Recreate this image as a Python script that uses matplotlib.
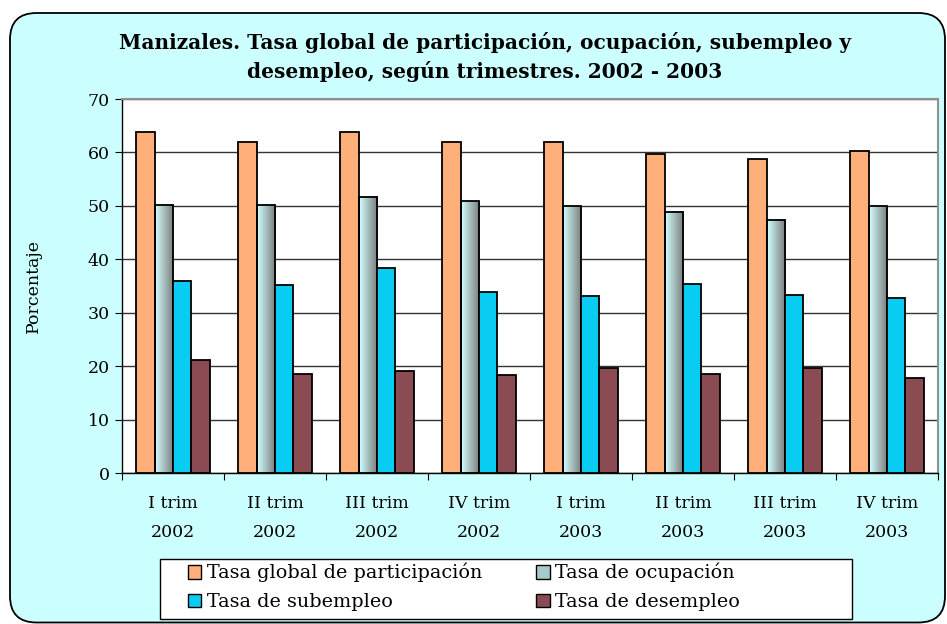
import matplotlib
matplotlib.use("Agg")
import matplotlib.pyplot as plt
import numpy as np
from matplotlib.patches import FancyBboxPatch, Patch, Rectangle

categories = ["I trim\n2002", "II trim\n2002", "III trim\n2002", "IV trim\n2002",
              "I trim\n2003", "II trim\n2003", "III trim\n2003", "IV trim\n2003"]
participacion = [63.8, 61.9, 63.8, 61.9, 61.9, 59.7, 58.8, 60.3]
ocupacion = [50.2, 50.2, 51.7, 50.9, 49.9, 48.9, 47.4, 49.9]
subempleo = [35.9, 35.1, 38.4, 33.8, 33.2, 35.3, 33.4, 32.8]
desempleo = [21.1, 18.6, 19.0, 18.3, 19.6, 18.6, 19.6, 17.7]
series_names = ["Tasa global de participación", "Tasa de ocupación",
                "Tasa de subempleo", "Tasa de desempleo"]

SERIF = "DejaVu Serif"
BG = "#CCFFFF"
colors = ["#FFAF7A", None, "#08CCF2", "#8A4B52"]
W, H = 947, 624

fig = plt.figure(figsize=(W / 100, H / 100), dpi=100)
fig.patch.set_facecolor("white")
frame = FancyBboxPatch((10 / W, 1.5 / H), 935 / W, 609.5 / H,
                       boxstyle="round,pad=0,rounding_size=0.028",
                       transform=fig.transFigure, facecolor=BG,
                       edgecolor="black", linewidth=1.3, zorder=-5,
                       mutation_aspect=W / H)
fig.patches.append(frame)

ax = fig.add_axes([122 / W, 1 - 473 / H, 816 / W, 374 / H])
ax.set_zorder(1)
ax.set_facecolor("white")

x = np.arange(len(categories))
w = 0.18
offsets = np.array([-1.5, -0.5, 0.5, 1.5]) * w
data = [participacion, ocupacion, subempleo, desempleo]

# horizontal light-cyan -> grey fill for the "ocupación" bars
grad = np.linspace(0, 1, 64).reshape(1, -1)
cmap = matplotlib.colors.LinearSegmentedColormap.from_list("g", ["#D2FFFF", "#7A7A7A"])

for i, vals in enumerate(data):
    xs = x + offsets[i]
    if colors[i] is None:
        for xi, v in zip(xs, vals):
            ax.imshow(grad, cmap=cmap, extent=[xi - w / 2, xi + w / 2, 0, v],
                      aspect="auto", zorder=2, interpolation="bilinear")
        ax.bar(xs, vals, width=w, facecolor="none", edgecolor="black",
               linewidth=1.3, zorder=3)
    else:
        ax.bar(xs, vals, width=w, color=colors[i], edgecolor="black",
               linewidth=1.3, zorder=3)

ax.set_xlim(-0.5, len(categories) - 0.5)
ax.set_ylim(0, 70)
ax.set_yticks(range(0, 71, 10))
ax.set_yticklabels([str(v) for v in range(0, 71, 10)], fontfamily=SERIF, fontsize=12.5)
ax.set_xticks(np.arange(-0.5, len(categories), 1.0))
ax.set_xticklabels([])
ax.set_xticks(x, minor=True)
ax.set_xticklabels(categories, minor=True, fontfamily=SERIF, fontsize=12.5,
                   linespacing=1.9)
ax.tick_params(axis="x", which="minor", length=0, pad=16)
ax.tick_params(axis="x", which="major", direction="out", length=5)
ax.tick_params(axis="y", direction="out", length=5, pad=4)
ax.yaxis.grid(True, color="#333333", linewidth=1.0, zorder=0)
ax.set_axisbelow(True)
for side in ["top", "right"]:
    ax.spines[side].set_color("#909090")
    ax.spines[side].set_linewidth(1.5)
for side in ["left", "bottom"]:
    ax.spines[side].set_color("black")
    ax.spines[side].set_linewidth(1.0)

ax.set_ylabel("Porcentaje", fontfamily=SERIF, fontsize=12.5)
ax.yaxis.set_label_coords((42 - 122) / 816, 0.5)

fig.text(485 / W, 1 - 57 / H,
         "Manizales. Tasa global de participación, ocupación, subempleo y\n"
         "desempleo, según trimestres. 2002 - 2003",
         ha="center", va="center", fontfamily=SERIF, fontweight="bold",
         fontsize=14.5, linespacing=1.45)

# legend box (Excel leaves extra room on the right)
fig.patches.append(Rectangle((160 / W, 1 - 619 / H), 692 / W, 60 / H,
                             transform=fig.transFigure, facecolor="white",
                             edgecolor="black", linewidth=1.0, zorder=2))
handles = [Patch(facecolor=colors[0], edgecolor="black"),
           Patch(facecolor="#A8CACA", edgecolor="black"),
           Patch(facecolor=colors[2], edgecolor="black"),
           Patch(facecolor=colors[3], edgecolor="black")]
order = [0, 2, 1, 3]
leg = fig.legend([handles[k] for k in order], [series_names[k] for k in order],
                 loc="upper left", bbox_to_anchor=(188 / W, 1 - 563 / H),
                 ncol=2, prop={"family": SERIF, "size": 13.8}, frameon=False,
                 handlelength=0.7, handleheight=0.7, handletextpad=0.3,
                 columnspacing=2.8, labelspacing=0.55, borderpad=0,
                 borderaxespad=0)
leg.set_zorder(3)

fig.savefig("out.png", dpi=100, facecolor=fig.get_facecolor())
